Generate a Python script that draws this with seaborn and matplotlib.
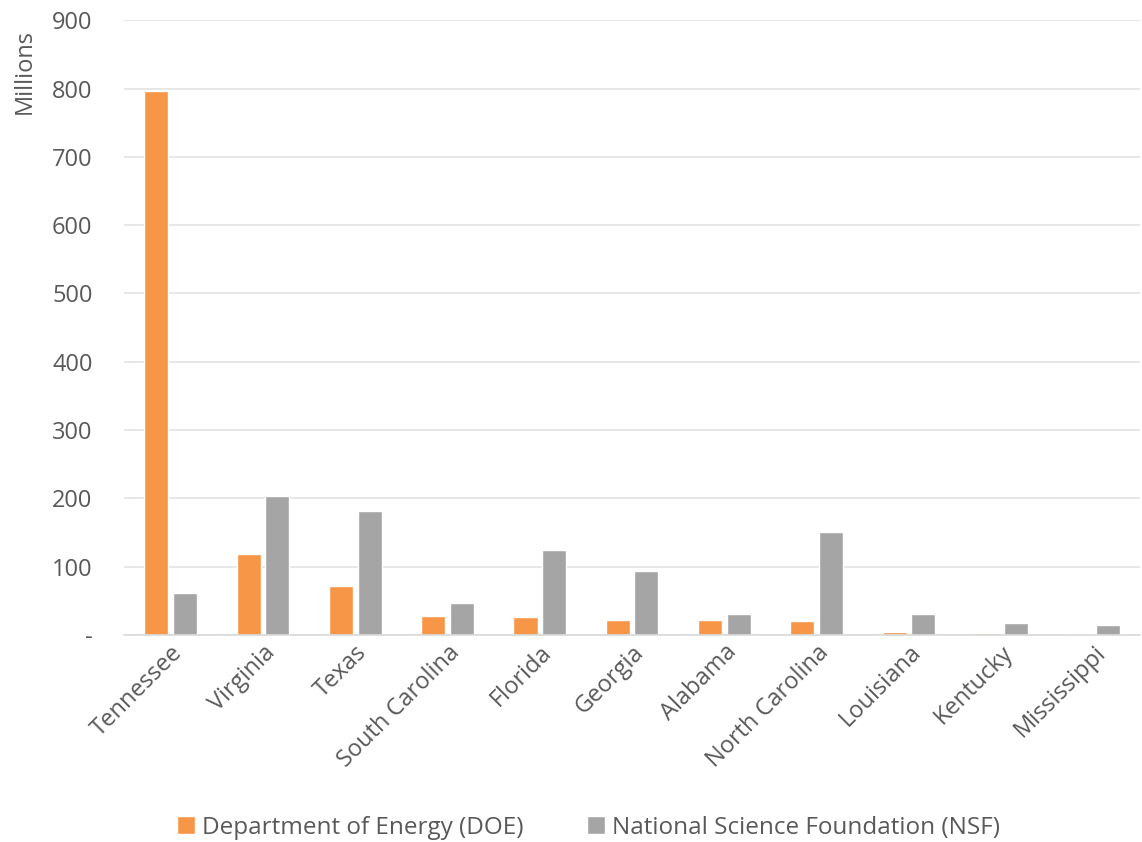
import matplotlib
matplotlib.use("Agg")
import matplotlib.pyplot as plt
import seaborn as sns
import pandas as pd

states = ["Tennessee", "Virginia", "Texas", "South Carolina", "Florida", "Georgia",
          "Alabama", "North Carolina", "Louisiana", "Kentucky", "Mississippi"]
doe = [796, 119, 71, 27, 26, 22, 22, 20, 4, 3, 1]
nsf = [62, 203, 181, 47, 124, 94, 30, 150, 31, 18, 15]
series = ["Department of Energy (DOE)", "National Science Foundation (NSF)"]
yticks = [0, 100, 200, 300, 400, 500, 600, 700, 800, 900]
ytick_labels = ["-", "100", "200", "300", "400", "500", "600", "700", "800", "900"]

df = pd.DataFrame({
    "State": states * 2,
    "Value": doe + nsf,
    "Agency": [series[0]] * len(states) + [series[1]] * len(states),
})

sns.set_theme(style="white")
plt.rcParams["font.family"] = ["Open Sans", "DejaVu Sans"]
txt = "#595959"

fig = plt.figure(figsize=(11.42, 8.42), dpi=100)
ax = fig.add_axes([0.109, 0.246, 0.889, 0.730])

sns.barplot(data=df, x="State", y="Value", hue="Agency", hue_order=series,
            palette=["#F79646", "#A5A5A5"], width=0.62, gap=0.16,
            saturation=1, ax=ax, legend=True)

ax.set_ylim(0, 900)
ax.set_xlim(-0.5, len(states) - 0.5)
ax.set_yticks(yticks)
ax.set_yticklabels(ytick_labels)
ax.yaxis.grid(True, color="#E3E3E3", linewidth=1.2)
ax.set_axisbelow(True)
for s in ["top", "right", "left"]:
    ax.spines[s].set_visible(False)
ax.spines["bottom"].set_color("#D9D9D9")
ax.spines["bottom"].set_linewidth(1.2)
ax.tick_params(axis="both", length=0, colors=txt, labelsize=17)
ax.tick_params(axis="y", pad=23)
ax.tick_params(axis="x", pad=4)
plt.setp(ax.get_xticklabels(), rotation=45, ha="right", rotation_mode="anchor")
ax.set_xlabel("")
ax.set_ylabel("Millions", color=txt, fontsize=17)
ax.yaxis.set_label_coords(-0.086, 0.917)

handles, labels = ax.get_legend_handles_labels()
ax.legend(handles, labels, loc="center", bbox_to_anchor=(0.457, -0.314),
          bbox_transform=ax.transAxes, ncol=2, frameon=False, fontsize=17.5,
          handlelength=0.75, handleheight=0.75, handletextpad=0.3, columnspacing=2.6,
          labelcolor=txt)

fig.savefig("out.png", dpi=100, facecolor="white")
